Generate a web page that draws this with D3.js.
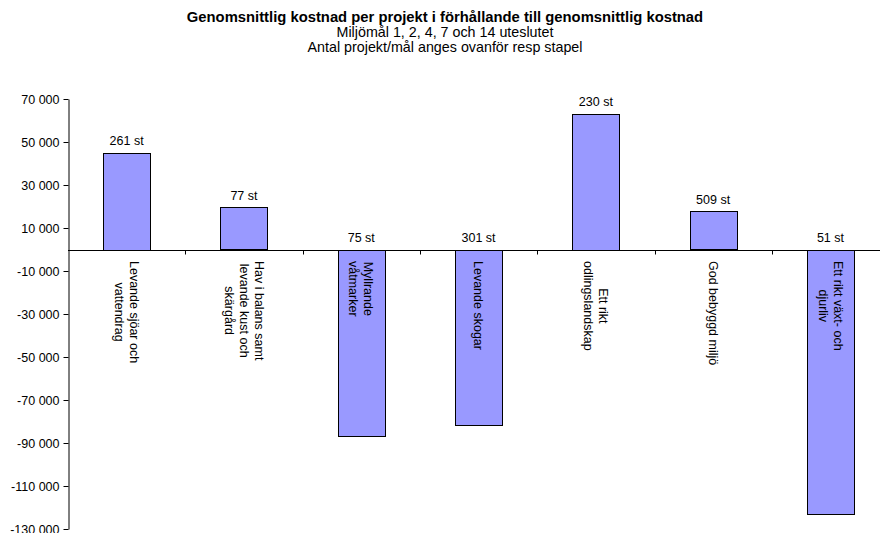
<!DOCTYPE html>
<html>
<head>
<meta charset="utf-8">
<script src="https://cdn.jsdelivr.net/npm/d3@7"></script>
<style>
  body { margin: 0; background: #fff; }
  svg { display: block; font-family: "Liberation Sans", Arial, sans-serif; }
</style>
</head>
<body>
<svg id="chart" width="880" height="533"></svg>
<script>
const categories = [
  "Levande sjöar och\nvattendrag",
  "Hav i balans samt\nlevande kust och\nskärgård",
  "Myllrande\nvåtmarker",
  "Levande skogar",
  "Ett rikt\nodlingslandskap",
  "God bebyggd miljö",
  "Ett rikt växt- och\ndjurliv"
];
const values = [45000, 19600, -86400, -81600, 63200, 17800, -122600];
const projectCounts = [261, 77, 75, 301, 230, 509, 51];
const tickValues = [70000, 50000, 30000, 10000, -10000, -30000, -50000, -70000, -90000, -110000, -130000];
const titleLines = [
  "Genomsnittlig kostnad per projekt i förhållande till genomsnittlig kostnad",
  "Miljömål 1, 2, 4, 7 och 14 uteslutet",
  "Antal projekt/mål anges ovanför resp stapel"
];

(function () {
const svg = d3.select("#chart");
const fs = 12.5;

const pLeft = 68, pRight = 68 + 7 * 117.3, pTop = 99, pBottom = 529;

const x = d3.scaleBand().domain(d3.range(categories.length)).range([pLeft, pRight])
  .paddingInner(0.6).paddingOuter(0.3);
const y = d3.scaleLinear().domain([-130000, 70000]).range([pBottom, pTop]);

const loc = d3.formatLocale({ decimal: ",", thousands: " ", grouping: [3], currency: ["", ""], minus: "-" });
const fmt = loc.format(",d");

// Title
svg.append("g").selectAll("text").data(titleLines).join("text")
  .attr("x", 445)
  .attr("y", (d, i) => 22 + i * 15)
  .attr("text-anchor", "middle")
  .attr("font-size", (d, i) => i === 0 ? 14.8 : 14.3)
  .attr("font-weight", (d, i) => i === 0 ? "bold" : "normal")
  .attr("fill", "#000")
  .text(d => d);

// Bars
svg.append("g").selectAll("rect").data(values).join("rect")
  .attr("x", (d, i) => Math.round(x(i)) + 0.5)
  .attr("y", d => Math.round(y(Math.max(0, d))) + 0.5)
  .attr("width", Math.round(x.bandwidth()))
  .attr("height", d => Math.round(Math.abs(y(d) - y(0))))
  .attr("fill", "#9999FF")
  .attr("stroke", "#000")
  .attr("stroke-width", 1);

// Zero line
const y0 = Math.round(y(0)) + 0.5;
svg.append("line")
  .attr("x1", pLeft).attr("x2", 880)
  .attr("y1", y0).attr("y2", y0)
  .attr("stroke", "#000").attr("stroke-width", 1);

// Category ticks on zero line
const step = x.step();
svg.append("g").selectAll("line").data(d3.range(1, categories.length + 1)).join("line")
  .attr("x1", d => Math.round(pLeft + d * step) + 0.5)
  .attr("x2", d => Math.round(pLeft + d * step) + 0.5)
  .attr("y1", y0).attr("y2", y0 + 4)
  .attr("stroke", "#000").attr("stroke-width", 1);

// Y axis
const yAxis = d3.axisLeft(y).tickValues(tickValues).tickFormat(fmt).tickSize(5).tickSizeOuter(0).tickPadding(4);
const gy = svg.append("g").attr("transform", `translate(${pLeft + 0.5},0)`).call(yAxis);
gy.select(".domain").attr("stroke", "#000");
gy.selectAll(".tick line").attr("stroke", "#000");
gy.selectAll(".tick text").attr("font-size", fs).attr("font-family", "Liberation Sans, Arial, sans-serif").attr("fill", "#000");

// Count labels
svg.append("g").selectAll("text").data(values).join("text")
  .attr("x", (d, i) => x(i) + x.bandwidth() / 2)
  .attr("y", d => Math.min(y(d), y(0)) - 7.5)
  .attr("text-anchor", "middle")
  .attr("font-size", fs)
  .attr("fill", "#000")
  .text((d, i) => projectCounts[i] + " st");

// Category labels (rotated 90°, top-to-bottom)
const lh = 15;
const labelTop = 261;
categories.forEach((c, i) => {
  const lines = c.split("\n");
  const g = svg.append("g");
  const t = g.append("text")
    .attr("font-size", fs)
    .attr("fill", "#000")
    .attr("text-anchor", "middle");
  lines.forEach((ln, j) => {
    t.append("tspan")
      .attr("x", 0)
      .attr("y", (j - (lines.length - 1) / 2) * lh)
      .attr("dy", "0.35em")
      .text(ln);
  });
  let maxLen = 0;
  t.selectAll("tspan").each(function () { maxLen = Math.max(maxLen, this.getComputedTextLength()); });
  const cx = x(i) + x.bandwidth() / 2;
  g.attr("transform", `translate(${cx},${labelTop + maxLen / 2}) rotate(90)`);
});
})();
</script>
</body>
</html>
